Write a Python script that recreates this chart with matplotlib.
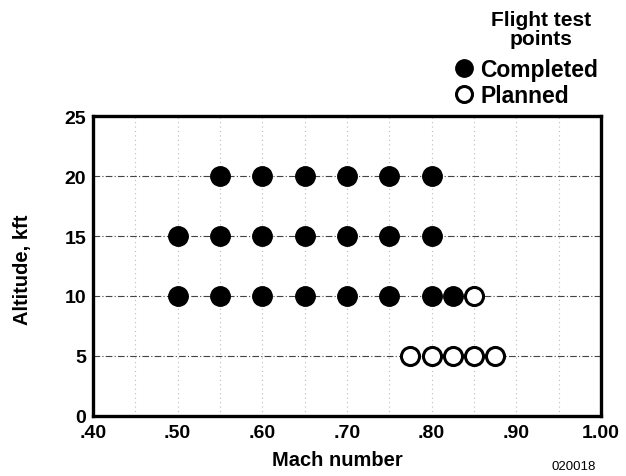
import matplotlib.pyplot as plt
from matplotlib.lines import Line2D

plt.rcParams['font.family'] = ['Liberation Sans', 'DejaVu Sans']
plt.rcParams['font.weight'] = 'bold'

completed_mach = [.55, .60, .65, .70, .75, .80,
                  .50, .55, .60, .65, .70, .75, .80,
                  .50, .55, .60, .65, .70, .75, .80, .825]
completed_alt = [20, 20, 20, 20, 20, 20,
                 15, 15, 15, 15, 15, 15, 15,
                 10, 10, 10, 10, 10, 10, 10, 10]
planned_mach = [.85, .775, .80, .825, .85, .875]
planned_alt = [10, 5, 5, 5, 5, 5]

x_ticks = [.40, .50, .60, .70, .80, .90, 1.00]
x_labels = [".40", ".50", ".60", ".70", ".80", ".90", "1.00"]
y_ticks = [0, 5, 10, 15, 20, 25]

fig = plt.figure(figsize=(6.26, 4.77), dpi=100)
ax = fig.add_axes([0.1486, 0.1258, 0.8114, 0.6289])

# faint vertical dotted grid, dash-dot horizontal grid
for m in [.45, .50, .55, .60, .65, .70, .75, .80, .85, .90, .95]:
    ax.axvline(m, color="#bbbbbb", linestyle=(0, (1, 3)), linewidth=0.8, zorder=0)
for a in [5, 10, 15, 20]:
    ax.axhline(a, color="#444444", linestyle=(0, (6, 2, 1, 2)), linewidth=0.8, zorder=0)

ax.plot(completed_mach, completed_alt, "o", color="black", markersize=14, zorder=3)
ax.plot(planned_mach, planned_alt, "o", markerfacecolor="white", markeredgecolor="black",
        markeredgewidth=2.2, markersize=13, zorder=3)

ax.set_xlim(.40, 1.00)
ax.set_ylim(0, 25)
ax.set_xticks(x_ticks)
ax.set_xticklabels(x_labels)
ax.set_yticks(y_ticks)
ax.tick_params(length=0, labelsize=14)
ax.tick_params(axis="x", pad=6)
ax.tick_params(axis="y", pad=5)
for s in ax.spines.values():
    s.set_linewidth(2.4)
ax.set_xlabel("Mach number", fontsize=14.5, fontweight="bold")
ax.xaxis.set_label_coords(0.482, -0.115)
ax.set_ylabel("Altitude, kft", fontsize=14.5, fontweight="bold")
ax.yaxis.set_label_coords(-0.12, 0.49)

fig.text(0.864, 1 - 30 / 477, "Flight test\npoints", ha="center", va="center",
         multialignment="center", fontsize=15, fontweight="bold", linespacing=1.0)

handles = [
    Line2D([], [], marker="o", linestyle="none", color="black", markersize=12.5),
    Line2D([], [], marker="o", linestyle="none", markerfacecolor="white",
           markeredgecolor="black", markeredgewidth=2.2, markersize=11.5),
]
fig.legend(handles, ["Completed", "Planned"], loc="center left",
           bbox_to_anchor=(0.7229, 1 - 83.5 / 477), frameon=False, fontsize=16.5,
           handlelength=1.0, handletextpad=0.2, labelspacing=0.1,
           borderpad=0, borderaxespad=0)

fig.text(0.917, 1 - 467 / 477, "020018", fontsize=9.5, fontweight="normal",
         ha="center", va="center")

fig.savefig("out.png", dpi=100)
